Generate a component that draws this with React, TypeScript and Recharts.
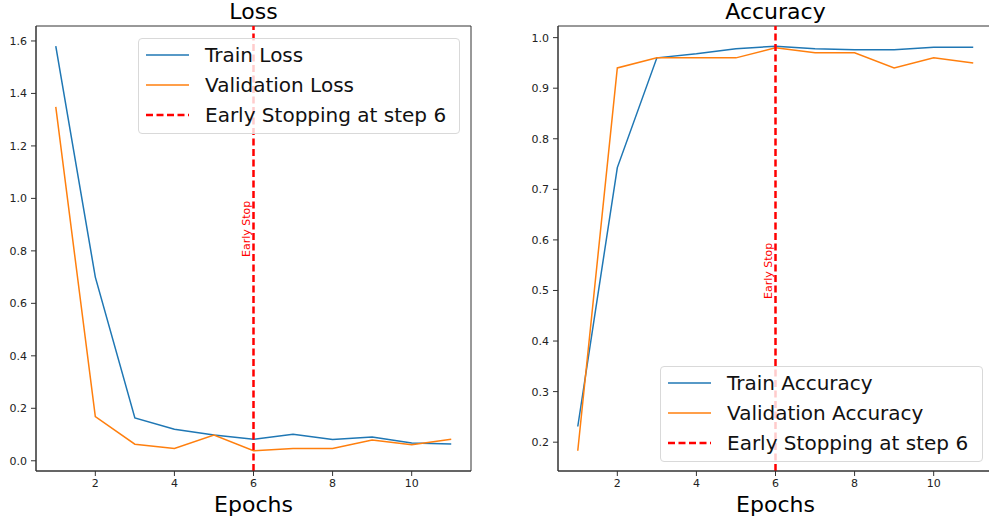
import React from 'react';
import {
  LineChart,
  Line,
  XAxis,
  YAxis,
  ReferenceLine,
  ReferenceDot,
  ReferenceArea,
} from 'recharts';

const epochs = [1, 2, 3, 4, 5, 6, 7, 8, 9, 10, 11];
const trainLoss = [1.58, 0.7, 0.163, 0.12, 0.098, 0.082, 0.101, 0.081, 0.091, 0.068, 0.064];
const valLoss = [1.349, 0.168, 0.063, 0.047, 0.098, 0.038, 0.047, 0.047, 0.079, 0.061, 0.082];
const trainAcc = [0.231, 0.743, 0.96, 0.968, 0.978, 0.983, 0.978, 0.976, 0.976, 0.981, 0.981];
const valAcc = [0.183, 0.94, 0.96, 0.96, 0.96, 0.98, 0.97, 0.97, 0.94, 0.96, 0.95];

const xTicks = [2, 4, 6, 8, 10];
const lossTicks = [0, 0.2, 0.4, 0.6, 0.8, 1.0, 1.2, 1.4, 1.6];
const accTicks = [0.2, 0.3, 0.4, 0.5, 0.6, 0.7, 0.8, 0.9, 1.0];

const stopEpoch = 6;
const lossLabelY = 0.79;
const accLabelY = 0.49;

const BLUE = '#1f77b4';
const ORANGE = '#ff7f0e';
const RED = '#ff0000';
const FONT = '"DejaVu Sans", sans-serif';
const X_DOMAIN = [0.5, 11.5];

const lossData = epochs.map((e, i) => ({ epoch: e, train: trainLoss[i], val: valLoss[i] }));
const accData = epochs.map((e, i) => ({ epoch: e, train: trainAcc[i], val: valAcc[i] }));

const tickStyle = { fontSize: 11, fill: '#222', fontFamily: FONT };

const EarlyStopText = (props: any) => {
  const { cx, cy } = props;
  if (cx == null || cy == null) return null;
  const x = cx - 3.5;
  const y = cy + 3.5;
  return (
    <text
      x={x}
      y={y}
      transform={`rotate(-90, ${x}, ${y})`}
      fill={RED}
      fontSize={11}
      fontFamily={FONT}
      textAnchor="start"
    >
      Early Stop
    </text>
  );
};

function Legend({ items, left, top, width }: any) {
  return (
    <div
      style={{
        position: 'absolute',
        left,
        top,
        width,
        height: 96,
        boxSizing: 'border-box',
        background: 'rgba(255,255,255,0.8)',
        border: '1px solid #d9d9d9',
        borderRadius: 4,
        fontFamily: FONT,
        fontSize: 20,
        color: '#111',
      }}
    >
      {items.map((it: any, i: number) => (
        <div
          key={it.name}
          style={{ position: 'absolute', left: 7, top: 1 + i * 30, height: 30, display: 'flex', alignItems: 'center', whiteSpace: 'nowrap' }}
        >
          <svg width={43} height={6} style={{ marginRight: 16 }}>
            <line
              x1={0}
              x2={43}
              y1={3}
              y2={3}
              stroke={it.color}
              strokeWidth={it.dashed ? 2.5 : 1.5}
              strokeDasharray={it.dashed ? '7 3.5' : undefined}
            />
          </svg>
          <span>{it.name}</span>
        </div>
      ))}
    </div>
  );
}

function Panel({ data, domain, ticks, labelY, trainName, valName }: any) {
  return (
    <LineChart
      width={480}
      height={522}
      data={data}
      margin={{ top: 26, right: 9, bottom: 0, left: 0 }}
    >
      <XAxis
        dataKey="epoch"
        type="number"
        domain={X_DOMAIN}
        ticks={xTicks}
        allowDataOverflow
        height={51}
        tick={tickStyle}
        tickSize={5}
        tickMargin={3}
        axisLine={{ stroke: '#333' }}
        tickLine={{ stroke: '#333' }}
      />
      <YAxis
        type="number"
        domain={domain}
        ticks={ticks}
        allowDataOverflow
        width={36}
        tick={tickStyle}
        tickSize={5}
        tickMargin={4}
        tickFormatter={(v: number) => v.toFixed(1)}
        axisLine={{ stroke: '#333' }}
        tickLine={{ stroke: '#333' }}
      />
      {/* top and right spines */}
      <ReferenceArea
        x1={X_DOMAIN[0]}
        x2={X_DOMAIN[1]}
        y1={domain[0]}
        y2={domain[1]}
        fill="none"
        fillOpacity={0}
        stroke="#333"
        strokeWidth={1}
        ifOverflow="visible"
      />
      <Line dataKey="train" name={trainName} stroke={BLUE} strokeWidth={1.5} dot={false} isAnimationActive={false} />
      <Line dataKey="val" name={valName} stroke={ORANGE} strokeWidth={1.5} dot={false} isAnimationActive={false} />
      <ReferenceLine x={stopEpoch} stroke={RED} strokeWidth={2.5} strokeDasharray="7 3.5" />
      <ReferenceDot x={stopEpoch} y={labelY} shape={EarlyStopText} />
    </LineChart>
  );
}

const titleStyle: React.CSSProperties = {
  position: 'absolute',
  fontFamily: FONT,
  fontSize: 22,
  lineHeight: '22px',
  color: '#000',
  textAlign: 'center',
  width: 300,
};

export default function App() {
  return (
    <div
      style={{
        position: 'fixed',
        left: 0,
        top: 0,
        width: 989,
        height: 522,
        overflow: 'hidden',
        background: '#fff',
      }}
    >
      <div style={{ position: 'absolute', left: 0, top: 0 }}>
        <Panel data={lossData} domain={[-0.039, 1.657]} ticks={lossTicks} labelY={lossLabelY} trainName="Train Loss" valName="Validation Loss" />
      </div>
      <div style={{ position: 'absolute', left: 522, top: 0 }}>
        <Panel data={accData} domain={[0.143, 1.023]} ticks={accTicks} labelY={accLabelY} trainName="Train Accuracy" valName="Validation Accuracy" />
      </div>

      <div style={{ ...titleStyle, left: 253.5 - 150, top: 1 }}>Loss</div>
      <div style={{ ...titleStyle, left: 253.5 - 150, top: 494 }}>Epochs</div>
      <div style={{ ...titleStyle, left: 775.5 - 150, top: 1 }}>Accuracy</div>
      <div style={{ ...titleStyle, left: 775.5 - 150, top: 494 }}>Epochs</div>

      <Legend
        left={138}
        top={38}
        width={322}
        items={[
          { name: 'Train Loss', color: BLUE },
          { name: 'Validation Loss', color: ORANGE },
          { name: 'Early Stopping at step 6', color: RED, dashed: true },
        ]}
      />
      <Legend
        left={660}
        top={366}
        width={323}
        items={[
          { name: 'Train Accuracy', color: BLUE },
          { name: 'Validation Accuracy', color: ORANGE },
          { name: 'Early Stopping at step 6', color: RED, dashed: true },
        ]}
      />
    </div>
  );
}
